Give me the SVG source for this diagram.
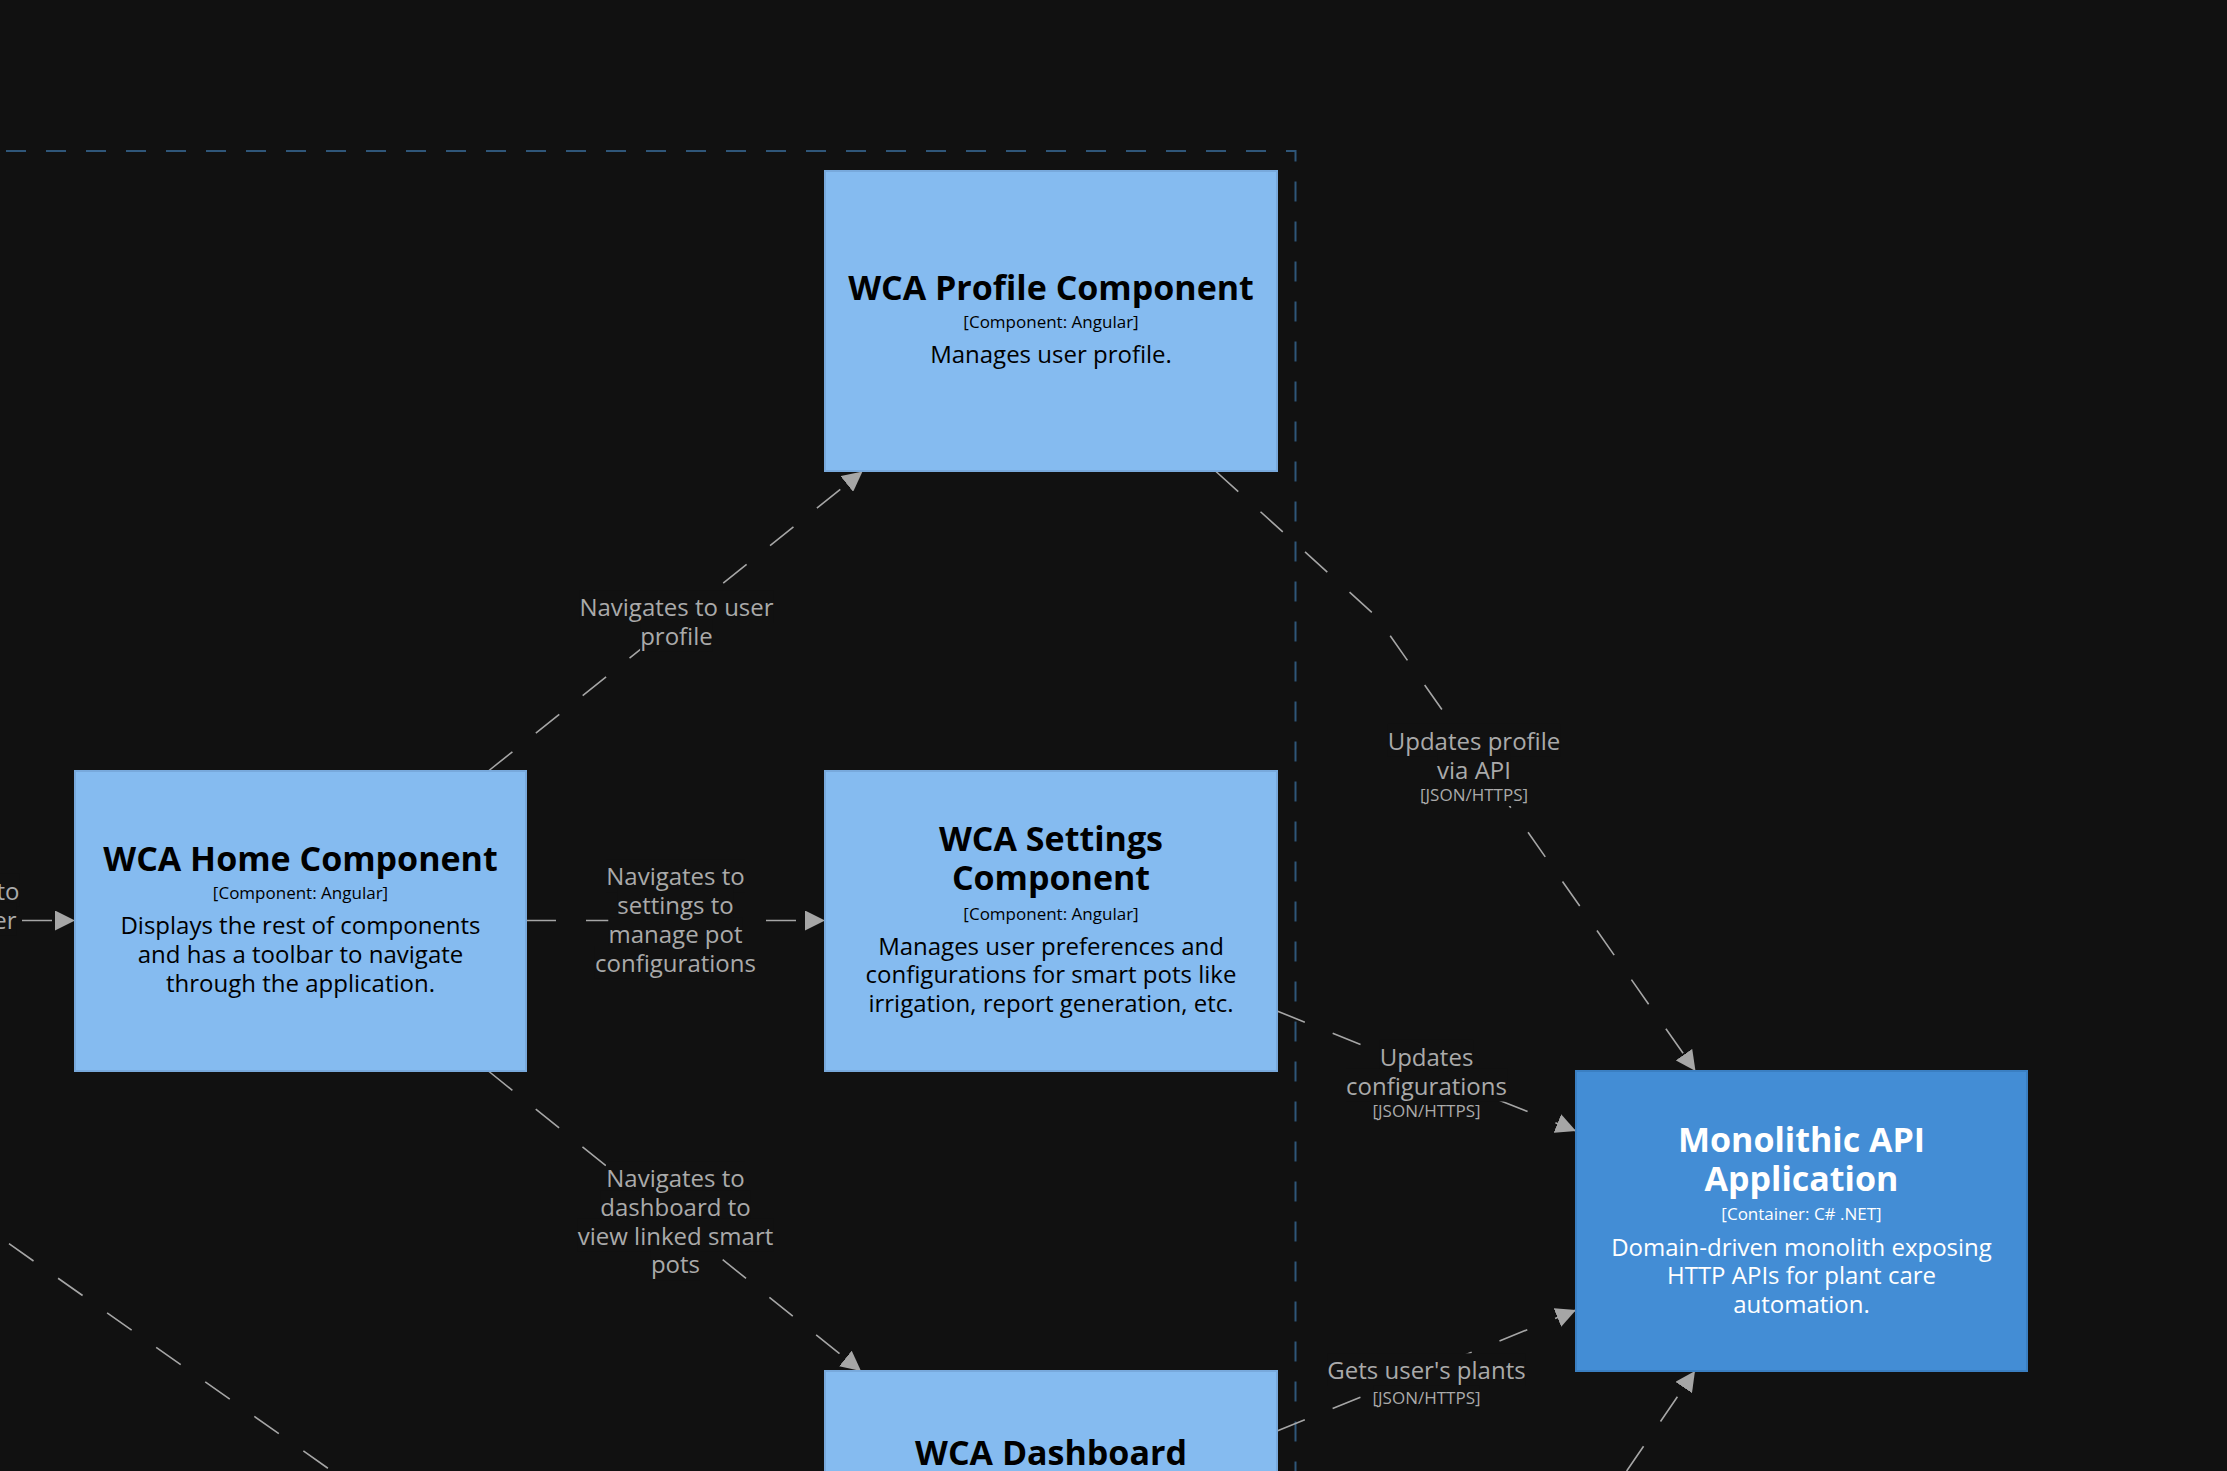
<svg xmlns="http://www.w3.org/2000/svg" width="2227" height="1471" viewBox="0 0 2227 1471">
<defs>
<style>
.f{font-family:"Open Sans","Noto Sans","DejaVu Sans",sans-serif;text-anchor:middle}
.comp{fill:#85bbf0;stroke:#78a9dc;stroke-width:2}
.cont{fill:#438dd5;stroke:#3a7fc2;stroke-width:2}
.ttl{font-size:34px;font-weight:bold}
.tech{font-size:17px}
.desc{font-size:24px}
.dk{fill:#000000}
.wh{fill:#ffffff}
.edge{fill:none;stroke:#a6a6a6;stroke-width:1.6;stroke-dasharray:30 30}
.lbl{font-size:24px;fill:#aaaaaa}
.ltech{font-size:17px;fill:#aaaaaa}
.lbg{fill:#111111}
.bnd{fill:none;stroke:#2f5679;stroke-width:2;stroke-dasharray:20 20}
</style>
<marker id="arr" markerUnits="userSpaceOnUse" markerWidth="20" markerHeight="20" viewBox="0 0 20 20" refX="20" refY="10" orient="auto">
<path d="M0,0 L20,10 L0,20 Z" fill="#a6a6a6"/>
</marker>
</defs>
<rect width="2227" height="1471" fill="#111111"/>
<g id="boundary">
<path class="bnd" d="M-34,151 H1295.5 V1500"/>
</g>
<g id="connectors">
<path class="edge" d="M-38,920.5 L75,920.5" marker-end="url(#arr)"/>
<path class="edge" d="M489,770.5 L862.5,471.5" marker-end="url(#arr)"/>
<path class="edge" d="M526,920.5 L825,920.5" marker-end="url(#arr)"/>
<path class="edge" d="M489,1071.5 L861,1371" marker-end="url(#arr)"/>
<path class="edge" d="M1216,471.5 L1377,617 L1695.5,1071" marker-end="url(#arr)"/>
<path class="edge" d="M1277,1011 L1576,1131" marker-end="url(#arr)"/>
<path class="edge" d="M1277,1431 L1576,1310" marker-end="url(#arr)"/>
<path class="edge" d="M1592.8,1520.6 L1695,1371" marker-end="url(#arr)"/>
<path class="edge" d="M9,1243.7 L400,1519"/>
<g id="labels">
<rect class="lbg" x="-10" y="873.8" width="29.5" height="32.7"/>
<rect class="lbg" x="-10" y="902.6" width="26.5" height="32.7"/>
<text class="f lbl" style="text-anchor:end" x="19.5" y="899.7">to</text>
<text class="f lbl" style="text-anchor:end" x="16.5" y="928.5">er</text>

<rect class="lbg" x="579.2" y="590.3" width="194.6" height="32.7"/>
<rect class="lbg" x="640.1" y="619.1" width="72.7" height="32.7"/>
<text class="f lbl" x="676.5" y="616">Navigates to user</text>
<text class="f lbl" x="676.5" y="644.8">profile</text>

<rect class="lbg" x="606" y="859.6" width="139" height="32.7"/>
<rect class="lbg" x="617.2" y="888.4" width="116.5" height="32.7"/>
<rect class="lbg" x="608.3" y="917.2" width="134.3" height="32.7"/>
<rect class="lbg" x="594.9" y="946" width="161.1" height="32.7"/>
<text class="f lbl" x="675.5" y="885.3">Navigates to</text>
<text class="f lbl" x="675.5" y="914.1">settings to</text>
<text class="f lbl" x="675.5" y="942.9">manage pot</text>
<text class="f lbl" x="675.5" y="971.7">configurations</text>

<rect class="lbg" x="606" y="1161.3" width="139" height="32.7"/>
<rect class="lbg" x="600.2" y="1190.1" width="150.5" height="32.7"/>
<rect class="lbg" x="577.6" y="1218.9" width="195.8" height="32.7"/>
<rect class="lbg" x="650.9" y="1247.7" width="49.1" height="32.7"/>
<text class="f lbl" x="675.5" y="1187">Navigates to</text>
<text class="f lbl" x="675.5" y="1215.8">dashboard to</text>
<text class="f lbl" x="675.5" y="1244.6">view linked smart</text>
<text class="f lbl" x="675.5" y="1273.4">pots</text>

<rect class="lbg" x="1387.7" y="723.8" width="172.6" height="32.7"/>
<rect class="lbg" x="1437.2" y="752.8" width="73.6" height="32.7"/>
<rect class="lbg" x="1421" y="782.8" width="106" height="23.2"/>
<text class="f lbl" x="1474" y="749.5">Updates profile</text>
<text class="f lbl" x="1474" y="778.5">via API</text>
<text class="f ltech" x="1474" y="801">[JSON/HTTPS]</text>

<rect class="lbg" x="1379.7" y="1039.8" width="93.6" height="32.7"/>
<rect class="lbg" x="1346" y="1068.8" width="161.1" height="32.7"/>
<rect class="lbg" x="1373.5" y="1098.8" width="106" height="23.2"/>
<text class="f lbl" x="1426.5" y="1065.5">Updates</text>
<text class="f lbl" x="1426.5" y="1094.5">configurations</text>
<text class="f ltech" x="1426.5" y="1117">[JSON/HTTPS]</text>

<rect class="lbg" x="1327.7" y="1353.3" width="197.5" height="32.7"/>
<rect class="lbg" x="1373.5" y="1385.8" width="106" height="23.2"/>
<text class="f lbl" x="1426.5" y="1379">Gets user's plants</text>
<text class="f ltech" x="1426.5" y="1404">[JSON/HTTPS]</text>
</g>
</g>
<g id="profile">
<rect class="comp" x="825" y="171" width="452" height="300"/>
<text class="f ttl dk" x="1051" y="300">WCA Profile Component</text>
<text class="f tech dk" x="1051" y="328">[Component: Angular]</text>
<text class="f desc dk" x="1051" y="363">Manages user profile.</text>
</g>
<g id="home">
<rect class="comp" x="75" y="771" width="451" height="300"/>
<text class="f ttl dk" x="300.5" y="871">WCA Home Component</text>
<text class="f tech dk" x="300.5" y="899">[Component: Angular]</text>
<text class="f desc dk" x="300.5" y="934">Displays the rest of components</text>
<text class="f desc dk" x="300.5" y="962.8">and has a toolbar to navigate</text>
<text class="f desc dk" x="300.5" y="991.6">through the application.</text>
</g>
<g id="settings">
<rect class="comp" x="825" y="771" width="452" height="300"/>
<text class="f ttl dk" x="1051" y="851">WCA Settings</text>
<text class="f ttl dk" x="1051" y="890">Component</text>
<text class="f tech dk" x="1051" y="919.5">[Component: Angular]</text>
<text class="f desc dk" x="1051" y="954.5">Manages user preferences and</text>
<text class="f desc dk" x="1051" y="983.3">configurations for smart pots like</text>
<text class="f desc dk" x="1051" y="1012">irrigation, report generation, etc.</text>
</g>
<g id="dashboard">
<rect class="comp" x="825" y="1371" width="452" height="300"/>
<text class="f ttl dk" x="1051" y="1465">WCA Dashboard</text>
</g>
<g id="monolith">
<rect class="cont" x="1576" y="1071" width="451" height="300"/>
<text class="f ttl wh" x="1801.5" y="1151.5">Monolithic API</text>
<text class="f ttl wh" x="1801.5" y="1190.5">Application</text>
<text class="f tech wh" x="1801.5" y="1220">[Container: C# .NET]</text>
<text class="f desc wh" x="1801.5" y="1255.5">Domain-driven monolith exposing</text>
<text class="f desc wh" x="1801.5" y="1284.3">HTTP APIs for plant care</text>
<text class="f desc wh" x="1801.5" y="1313">automation.</text>
</g>
</svg>
